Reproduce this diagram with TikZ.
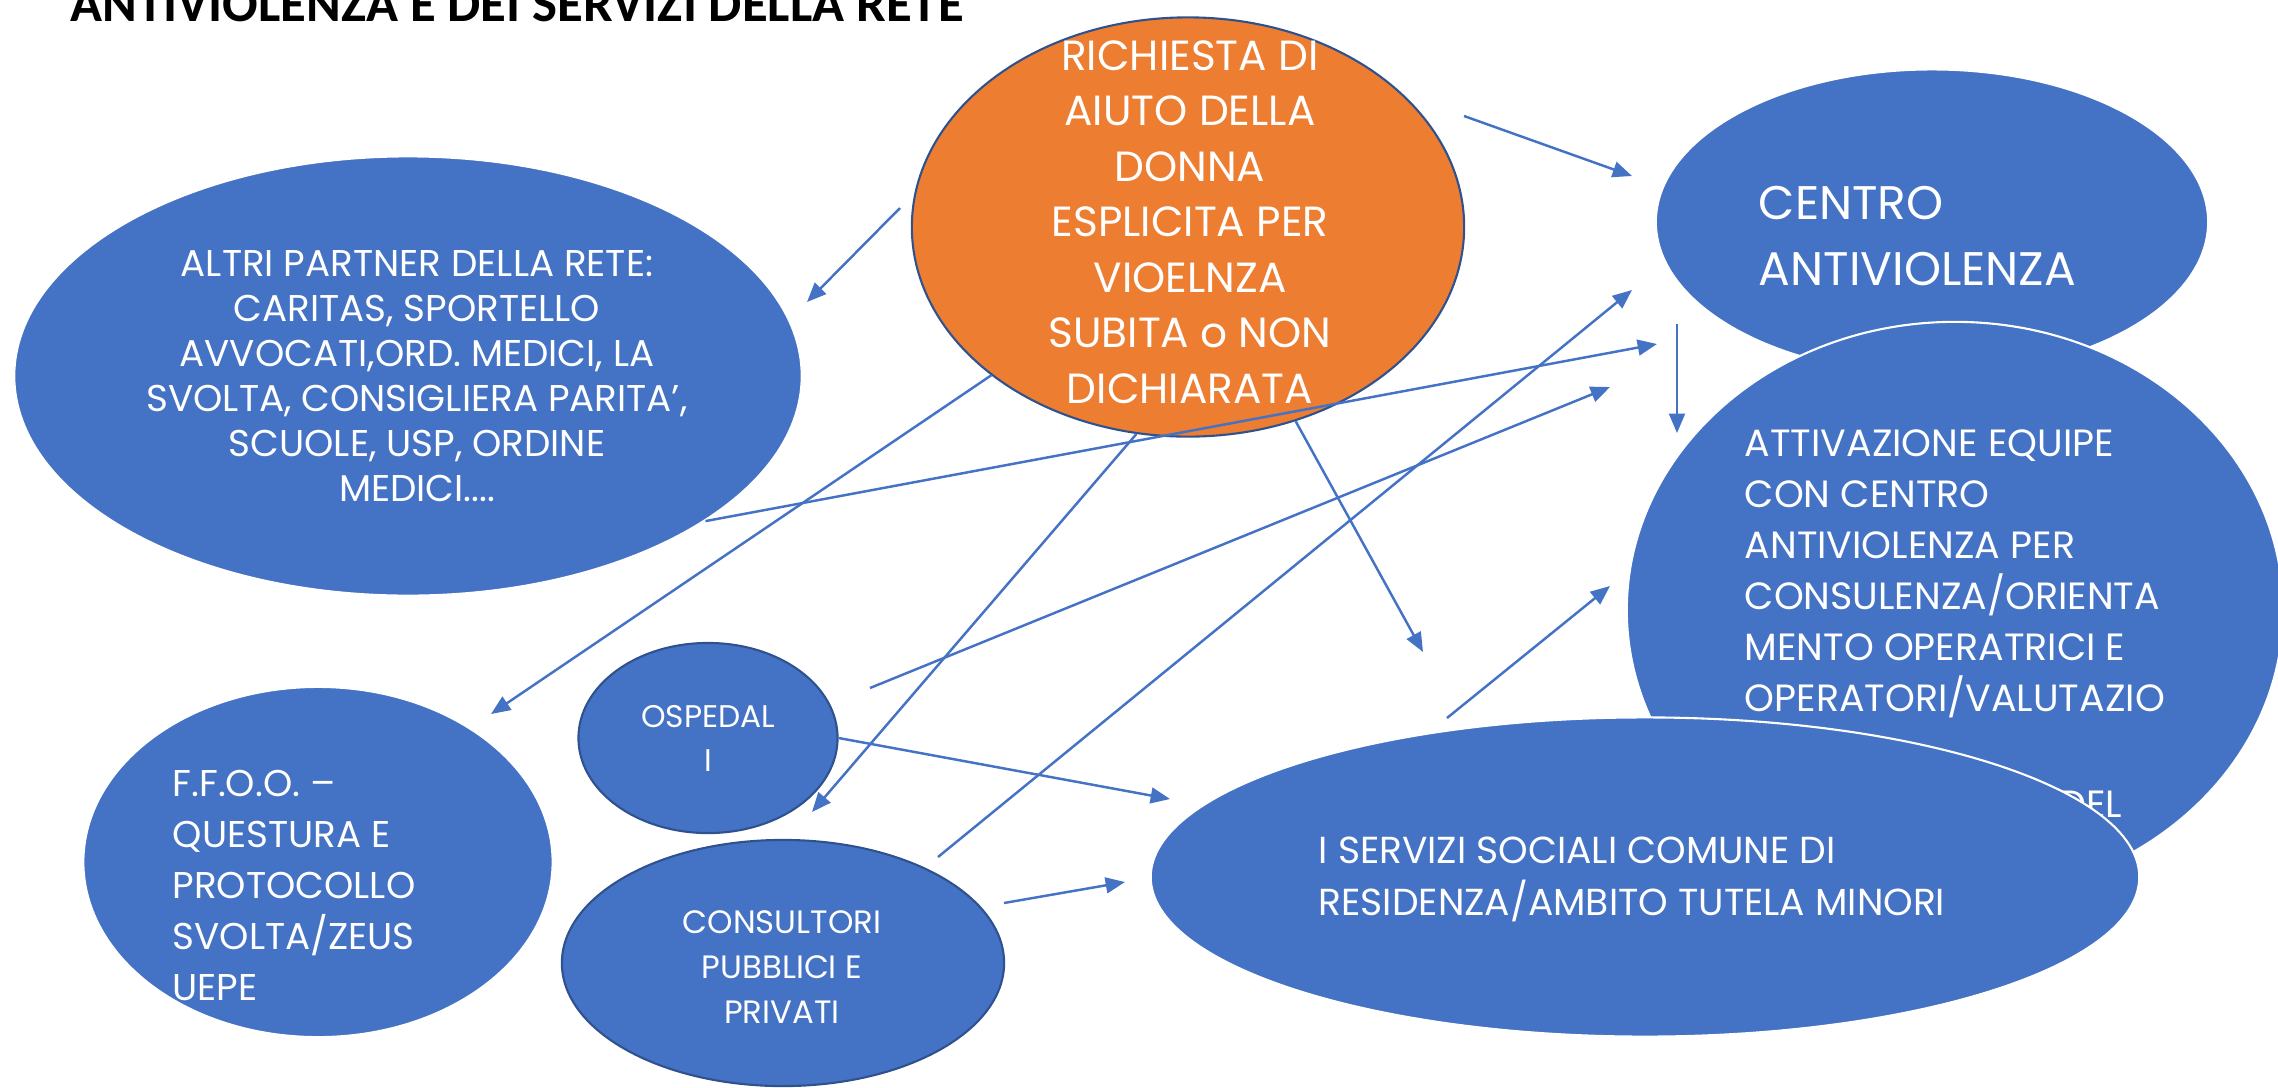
\documentclass[tikz,border=0pt]{standalone}
\usepackage{fontspec}
\setmainfont{Poppins}
\newfontfamily\headfont{Carlito}
\usetikzlibrary{shapes.geometric,arrows.meta}
\definecolor{pptblue}{HTML}{4472C4}
\definecolor{pptorange}{HTML}{ED7D31}
\definecolor{pptedge}{HTML}{2F528F}
\tikzset{
  blob/.style={ellipse, fill=pptblue, draw=white, line width=0.6pt, inner sep=0pt},
  ringed/.style={blob, draw=pptedge},
  txt/.style={text=white, inner sep=0pt},
  link/.style={draw=pptblue, line width=0.7pt, -{Triangle[length=5.5pt,width=4.5pt]}},
}

\begin{document}
\begin{tikzpicture}[x=0.01cm, y=-0.01cm]
		%%%%% START %%%%%
		\useasboundingbox (0,0) rectangle (2278,1087);
		
		\node[anchor=base west, inner sep=0pt, font=\headfont\bfseries\fontsize{15}{18}\selectfont] (titolo) at (70,21) {ANTIVIOLENZA E DEI SERVIZI DELLA RETE};
		
		% left side
		\node[blob, minimum width=7.87cm, minimum height=4.39cm] (partner) at (408,376) {};
		\node[txt, align=center, font=\fontsize{10.6}{12.8}\selectfont] (partnerTxt) at (417,376) {ALTRI PARTNER DELLA RETE:\\CARITAS, SPORTELLO\\AVVOCATI,ORD. MEDICI, LA\\SVOLTA, CONSIGLIERA PARITA’,\\SCUOLE, USP, ORDINE\\MEDICI....};
		
		\node[blob, minimum width=4.69cm, minimum height=3.50cm] (ffoo) at (318,862) {};
		\node[txt, anchor=west, align=left, font=\fontsize{10.6}{14.5}\selectfont] (ffooTxt) at (172,885) {F.F.O.O. –\\QUESTURA E\\PROTOCOLLO\\SVOLTA/ZEUS\\UEPE};
		
		\node[ringed, minimum width=2.59cm, minimum height=1.90cm] (ospedali) at (708,738) {};
		\node[txt, align=center, font=\fontsize{8.9}{12.5}\selectfont] (ospedaliTxt) at (708,738) {OSPEDAL\\I};
		
		\node[ringed, minimum width=4.42cm, minimum height=2.46cm] (consultori) at (783,963) {};
		\node[txt, align=center, font=\fontsize{9.2}{12.7}\selectfont] (consultoriTxt) at (782,967) {CONSULTORI\\PUBBLICI E\\PRIVATI};
		
		% the request
		\node[ringed, fill=pptorange, minimum width=5.52cm, minimum height=4.19cm] (richiesta) at (1188,227) {};
		\node[txt, align=center, font=\fontsize{12}{15.8}\selectfont] (richiestaTxt) at (1190,222) {RICHIESTA DI\\AIUTO DELLA\\DONNA\\ESPLICITA PER\\VIOELNZA\\SUBITA o NON\\DICHIARATA};
		
		% right side
		\node[blob, minimum width=5.52cm, minimum height=3.05cm] (centro) at (1932,222) {};
		\node[txt, anchor=west, align=left, font=\fontsize{13.4}{19}\selectfont] (centroTxt) at (1758,236) {CENTRO\\ANTIVIOLENZA};
		
		\node[blob, minimum width=6.56cm, minimum height=5.76cm] (equipe) at (1955,610) {};
		\node[txt, anchor=west, align=left, font=\fontsize{10.8}{14.5}\selectfont] (equipeTxt) at (1744,574) {ATTIVAZIONE EQUIPE\\CON CENTRO\\ANTIVIOLENZA PER\\CONSULENZA/ORIENTA\\MENTO OPERATRICI E\\OPERATORI/VALUTAZIO};
		\node[txt, anchor=east, font=\fontsize{10.8}{14.5}\selectfont] (equipeDel) at (2123,804) {DEL};
		
		\node[blob, minimum width=9.88cm, minimum height=3.19cm] (servizi) at (1645,877) {};
		\node[txt, anchor=west, align=left, font=\fontsize{10.7}{14.8}\selectfont] (serviziTxt) at (1318,879) {I SERVIZI SOCIALI COMUNE DI\\RESIDENZA/AMBITO TUTELA MINORI};
		
		% free ends of the arrows
		\coordinate (r1) at (900,208);
		\coordinate (r2) at (1464,116);
		\coordinate (p1) at (807,302);
		\coordinate (f1) at (491,714);
		\coordinate (o1) at (812,812);
		\coordinate (o2) at (870,688);
		\coordinate (k1) at (938,857);
		\coordinate (k2) at (1004,903);
		\coordinate (c1) at (1632,176);
		\coordinate (c2) at (1677,324);
		\coordinate (c3) at (1657,344);
		\coordinate (c4) at (1610,387);
		\coordinate (c5) at (1632,290);
		\coordinate (e1) at (1677,433);
		\coordinate (e2) at (1610,586);
		\coordinate (s1) at (1423,652);
		\coordinate (s2) at (1170,799);
		\coordinate (s3) at (1125,882);
		\coordinate (s4) at (1447,718);
		
		\draw[link] (r1) -- (p1);
		\draw[link] (r2) -- (c1);
		\draw[link] (c2) -- (e1);
		\draw[link] (richiesta.217) -- (f1);
		\draw[link] (partner.334) -- (c3);
		\draw[link] (richiesta.256) -- (o1);
		\draw[link] (richiesta.299) -- (s1);
		\draw[link] (o2) -- (c4);
		\draw[link] (k1) -- (c5);
		\draw[link] (ospedali.east) -- (s2);
		\draw[link] (k2) -- (s3);
		\draw[link] (s4) -- (e2);
		
		%%%%% END %%%%%
	\end{tikzpicture}
\end{document}
